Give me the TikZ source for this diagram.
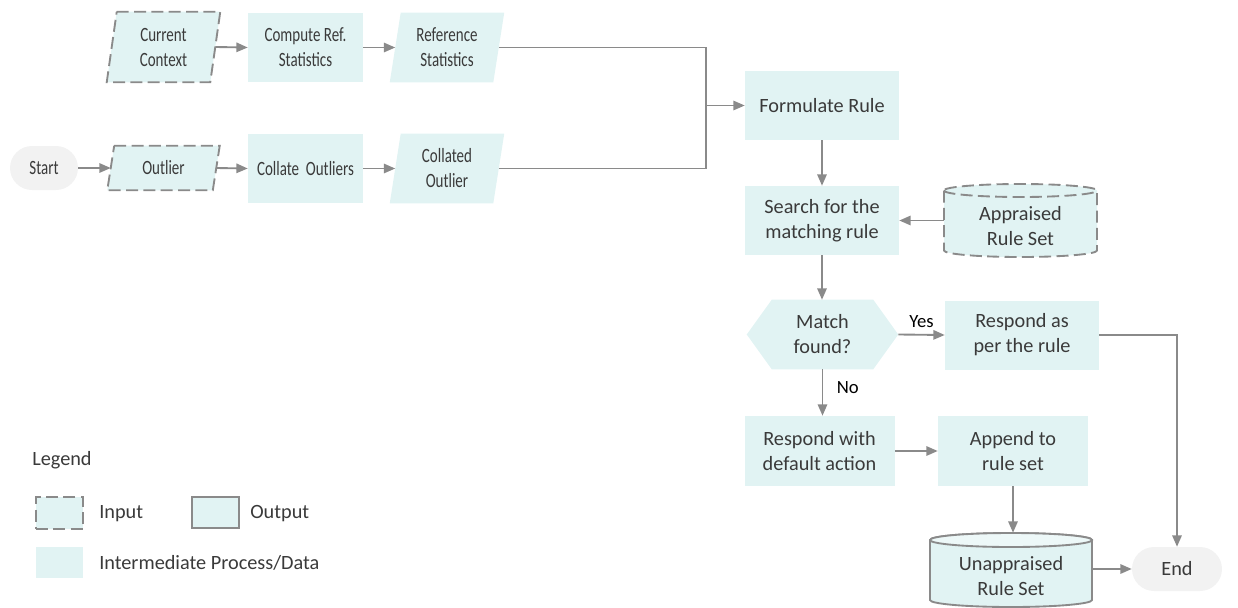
\documentclass[tikz,border=0pt]{standalone}
\usepackage{fontspec}
\setmainfont{Carlito}
\newfontfamily\condfont{Carlito}[FakeStretch=0.74]
\usetikzlibrary{arrows.meta,backgrounds}
\definecolor{boxfill}{HTML}{E1F3F3}
\definecolor{linegray}{HTML}{8A8A8A}
\definecolor{txtgray}{HTML}{3A3A3A}
\definecolor{pillfill}{HTML}{F2F2F2}
\begin{document}
\begin{tikzpicture}[x=0.75pt,y=-0.75pt,
  every node/.style={font=\fontsize{15.2}{18.75}\selectfont, text=txtgray, align=center, inner sep=0pt},
  cond/.style={font=\condfont\fontsize{15.2}{18.75}\selectfont},
  procA/.style={cond, fill=boxfill, minimum width=86.25pt, minimum height=51.75pt},
  procB/.style={fill=boxfill, minimum width=115.5pt, minimum height=51.75pt},
  procC/.style={fill=boxfill, minimum width=112.5pt, minimum height=52.5pt},
  para/.style={cond, minimum width=77.25pt, minimum height=51.75pt},
  pill/.style={fill=pillfill, rounded corners=16.5pt, minimum height=33pt},
  dashline/.style={draw=linegray, line width=1.4pt, dash pattern=on 9pt off 4pt},
  solidline/.style={draw=linegray, line width=1.4pt},
  conn/.style={draw=linegray, line width=1.4pt, -{Triangle[length=8.5pt,width=7pt]}},
  lab/.style={text=black, font=\fontsize{14}{16}\selectfont}
]
\useasboundingbox (0,0) rectangle (1238,607);

% ---- nodes ----
\node[para, minimum height=52.5pt] (cc) at (163.5,47) {Current\\Context};
\node[procA] (crs) at (305.5,47.5) {Compute Ref.\\Statistics};
\node[para] (rs) at (447,47.5) {Reference\\Statistics};

\node[pill, cond, minimum width=51pt] (start) at (44,168) {Start};
\node[para, minimum width=78.75pt, minimum height=33pt] (out) at (163.5,168) {Outlier};
\node[procA] (co) at (305.5,168.5) {Collate~ Outliers};
\node[para] (col) at (447,168.5) {Collated\\Outlier};

\node[procB] (fr) at (822,105.5) {Formulate Rule};
\node[procB] (search) at (822,220.5) {Search for the\\matching rule};
\node[minimum width=114.75pt, minimum height=54.75pt] (apr) at (1020.5,220.5) {};
\node (aprtext) at (1020.5,226) {Appraised\\Rule Set};

\node[minimum width=113.25pt, minimum height=51.75pt] (match) at (822.5,334.5) {Match\\found?};
\node[procB] (rap) at (1022,335) {Respond as\\per the rule};

\node[procC] (rdef) at (819.5,451) {Respond with\\default action};
\node[procC] (app) at (1013,451) {Append to\\rule set};

\node[minimum width=121.5pt, minimum height=55.5pt] (unapp) at (1011,570) {};
\node (unapptext) at (1011,576) {Unappraised\\Rule Set};
\node[pill, minimum width=67.5pt] (end) at (1177,569) {End};

% ---- backgrounds (custom shapes) ----
\begin{scope}[on background layer]
  \path[fill=boxfill, dashline] ([xshift=3.75pt]cc.north west) -- ([xshift=3.75pt]cc.north east) -- ([xshift=-3.75pt]cc.south east) -- ([xshift=-3.75pt]cc.south west) -- cycle;
  \path[fill=boxfill] ([xshift=4.1pt]rs.north west) -- ([xshift=4.1pt]rs.north east) -- ([xshift=-4.1pt]rs.south east) -- ([xshift=-4.1pt]rs.south west) -- cycle;
  \path[fill=boxfill, dashline] ([xshift=2.6pt]out.north west) -- ([xshift=2.6pt]out.north east) -- ([xshift=-2.6pt]out.south east) -- ([xshift=-2.6pt]out.south west) -- cycle;
  \path[fill=boxfill] ([xshift=4.1pt]col.north west) -- ([xshift=4.1pt]col.north east) -- ([xshift=-4.1pt]col.south east) -- ([xshift=-4.1pt]col.south west) -- cycle;
  \path[fill=boxfill] (match.west) -- ([xshift=18.75pt]match.north west) -- ([xshift=-18.75pt]match.north east) -- (match.east) -- ([xshift=-18.75pt]match.south east) -- ([xshift=18.75pt]match.south west) -- cycle;
  % appraised cylinder (dashed)
  \path[fill=boxfill, dashline] (944,190.5) -- (944,250.5) arc[start angle=180,end angle=360,x radius=57.375pt,y radius=4.875pt] -- (1097,190.5) arc[start angle=0,end angle=180,x radius=57.375pt,y radius=4.875pt] -- cycle;
  \draw[dashline] (944,190.5) arc[start angle=180,end angle=360,x radius=57.375pt,y radius=4.875pt];
  % unappraised cylinder (solid)
  \path[fill=boxfill, solidline] (930,540) -- (930,600) arc[start angle=180,end angle=360,x radius=60.75pt,y radius=5.25pt] -- (1092,540) arc[start angle=0,end angle=180,x radius=60.75pt,y radius=5.25pt] -- cycle;
  \fill[boxfill!60!white] (930,540) arc[start angle=180,end angle=540,x radius=60.75pt,y radius=5.25pt];
  \draw[solidline] (930,540) arc[start angle=180,end angle=540,x radius=60.75pt,y radius=5.25pt];
\end{scope}

% ---- connectors ----
\coordinate (j) at (706,105.5);
\draw[conn] (cc.east) -- (crs.west);
\draw[conn] (crs.east) -- (rs.west);
\draw[conn] (start.east) -- (out.west);
\draw[conn] (out.east) -- (co.west);
\draw[conn] (co.east) -- (col.west);
\draw[solidline] (rs.east) -| (j);
\draw[solidline] (col.east) -| (j);
\draw[conn] (j) -- (fr.west);
\draw[conn] (fr.south) -- (search.north);
\draw[conn] (search.east -| apr.west) -- (search.east);
\draw[conn] (search.south) -- (search.south |- match.north);
\draw[conn] (match.east) -- node[lab, above=5pt] (yes) {Yes} (rap.west);
\draw[conn] (match.south) -- node[lab, right=10pt, pos=0.4] (no) {No} (match.south |- rdef.north);
\draw[conn] (rap.east) -| (end.north);
\draw[conn] (rdef.east) -- (app.west);
\draw[conn] (app.south) -- (app.south |- unapp.north);
\draw[conn] (unapp.east |- end.west) -- (end.west);

% ---- legend ----
\node[anchor=west] (legend) at (32,460) {Legend};
\node[fill=boxfill, dashline, minimum width=35.25pt, minimum height=24pt] (lin) at (59.5,513) {};
\node[anchor=west] (lintext) at (99,514) {Input};
\node[fill=boxfill, solidline, minimum width=35.25pt, minimum height=23.25pt] (lout) at (215.5,512.5) {};
\node[anchor=west] (louttext) at (250,514) {Output};
\node[fill=boxfill, minimum width=35.25pt, minimum height=23.25pt] (lmid) at (59.5,562.5) {};
\node[anchor=west] (lmidtext) at (99,563) {Intermediate Process/Data};
\end{tikzpicture}
\end{document}
